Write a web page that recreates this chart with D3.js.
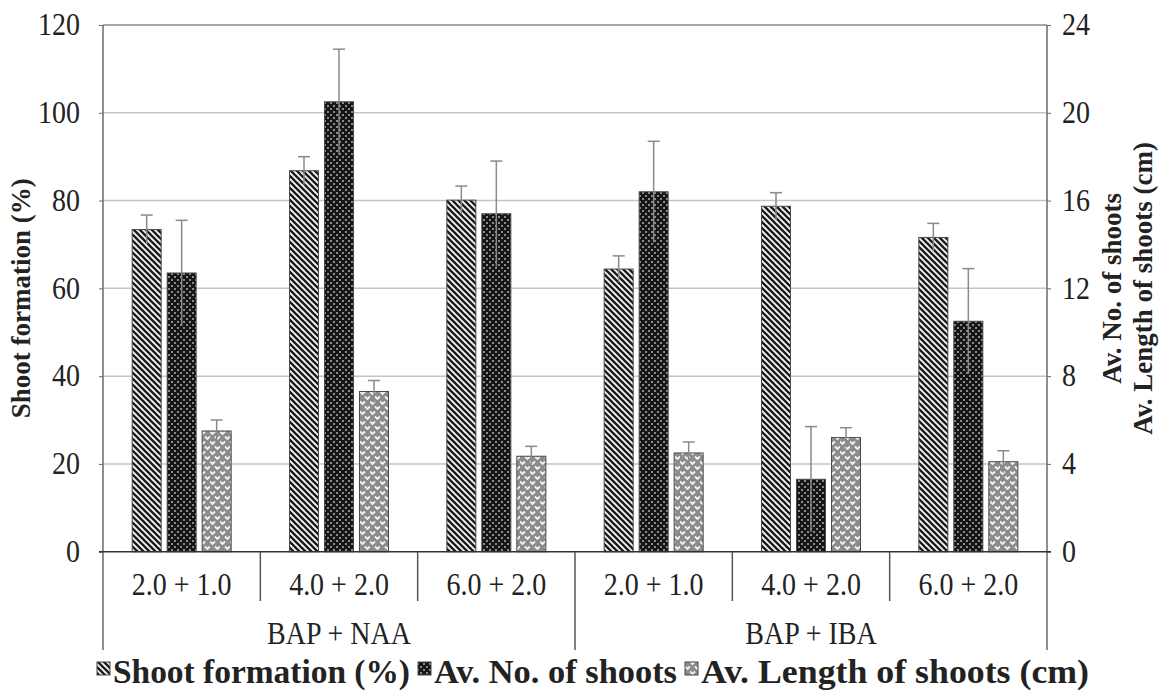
<!DOCTYPE html>
<html>
<head>
<meta charset="utf-8">
<script src="https://cdn.jsdelivr.net/npm/d3@7"></script>
<style>
  html, body { margin: 0; padding: 0; background: #fff; }
  svg { display: block; }
</style>
</head>
<body>
<svg id="chart" width="1171" height="692"></svg>
<script>
// ---- data ----
const categories = ["2.0 + 1.0", "4.0 + 2.0", "6.0 + 2.0", "2.0 + 1.0", "4.0 + 2.0", "6.0 + 2.0"];
const groups = ["BAP + NAA", "BAP + IBA"];
const seriesNames = ["Shoot formation (%)", "Av. No. of shoots", "Av. Length of shoots (cm)"];
const shootFormation    = [73.4, 86.8, 80.1, 64.4, 78.7, 71.6];
const shootFormationErr = [3.3, 3.2, 3.2, 3.0, 3.1, 3.2];
const avNoShoots        = [12.7, 20.5, 15.4, 16.4, 3.3, 10.5];
const avNoShootsErr     = [2.4, 2.4, 2.4, 2.3, 2.4, 2.4];
const avLength          = [5.5, 7.3, 4.35, 4.5, 5.2, 4.1];
const avLengthErr       = [0.5, 0.5, 0.45, 0.5, 0.45, 0.5];
const leftTicks  = [0, 20, 40, 60, 80, 100, 120];
const rightTicks = [0, 4, 8, 12, 16, 20, 24];

// ---- layout ----
const FONT = '"Liberation Serif"';
const STRETCH = "scale(1,1.15)";
const L = 103, R = 1047, T = 25, B = 551.7;
const svg = d3.select("#chart");

const yL = d3.scaleLinear().domain([0, 120]).range([B, T]);
const yR = d3.scaleLinear().domain([0, 24]).range([B, T]);
const x = d3.scaleBand().domain(d3.range(categories.length)).range([L, R]).padding(0);
const xs = d3.scaleBand().domain([0, 1, 2]).range([-49.5, 49.5]).paddingInner(0.171);

// ---- patterns ----
const defs = svg.append("defs");
const p1 = defs.append("pattern").attr("id", "pDiag").attr("patternUnits", "userSpaceOnUse")
  .attr("width", 6).attr("height", 6);
p1.append("rect").attr("width", 6).attr("height", 6).attr("fill", "#f4f4f4");
p1.append("path").attr("d", "M-1,-1 L7,7 M-4,2 L2,8 M2,-4 L8,2")
  .attr("stroke", "#1a1a1a").attr("stroke-width", 2.3);

const p2 = defs.append("pattern").attr("id", "pDots").attr("patternUnits", "userSpaceOnUse")
  .attr("width", 6).attr("height", 6);
p2.append("rect").attr("width", 6).attr("height", 6).attr("fill", "#161616");
p2.append("rect").attr("x", 0).attr("y", 0).attr("width", 2).attr("height", 2).attr("fill", "#8a8a8a");
p2.append("rect").attr("x", 3).attr("y", 3).attr("width", 2).attr("height", 2).attr("fill", "#8a8a8a");

const p3 = defs.append("pattern").attr("id", "pZig").attr("patternUnits", "userSpaceOnUse")
  .attr("width", 10).attr("height", 10);
p3.append("rect").attr("width", 10).attr("height", 10).attr("fill", "#8c8c8c");
p3.append("path").attr("d", "M0,1.5 L2.5,4 L5,1.5 M5,6.5 L7.5,9 L10,6.5")
  .attr("fill", "none").attr("stroke", "#f4f4f4").attr("stroke-width", 1.8);
const fills = ["url(#pDiag)", "url(#pDots)", "url(#pZig)"];

// ---- gridlines ----
svg.append("g").selectAll("line").data(leftTicks.filter(t => t > 0 && t < 120)).join("line")
  .attr("x1", L).attr("x2", R).attr("y1", d => yL(d)).attr("y2", d => yL(d))
  .attr("stroke", "#c4c4c4").attr("stroke-width", 1.5);

// ---- frame ----
svg.append("line").attr("x1", L).attr("x2", R).attr("y1", T).attr("y2", T)
  .attr("stroke", "#8a8a8a").attr("stroke-width", 1.5);
svg.append("line").attr("x1", L).attr("x2", L).attr("y1", T).attr("y2", 650)
  .attr("stroke", "#6a6a6a").attr("stroke-width", 1.5);
svg.append("line").attr("x1", R).attr("x2", R).attr("y1", T).attr("y2", 650)
  .attr("stroke", "#6a6a6a").attr("stroke-width", 1.5);

// ---- axes ----
const axL = svg.append("g").attr("transform", `translate(${L},0)`)
  .call(d3.axisLeft(yL).tickValues(leftTicks).tickSize(4).tickPadding(19));
axL.select(".domain").remove();
axL.selectAll("line").attr("stroke", "#6a6a6a");
axL.selectAll("text").style("font-size", "28px").style("font-family", FONT).attr("fill", "#222")
  .attr("dy", "0.3em").attr("transform", STRETCH);

const axR = svg.append("g").attr("transform", `translate(${R},0)`)
  .call(d3.axisRight(yR).tickValues(rightTicks).tickSize(4).tickPadding(11));
axR.select(".domain").remove();
axR.selectAll("line").attr("stroke", "#6a6a6a");
axR.selectAll("text").style("font-size", "28px").style("font-family", FONT).attr("fill", "#222")
  .attr("dy", "0.3em").attr("transform", STRETCH);

// ---- bars ----
const seriesVals = [shootFormation, avNoShoots, avLength];
const seriesErr = [shootFormationErr, avNoShootsErr, avLengthErr];
const seriesScale = [yL, yR, yR];
const barData = [];
seriesVals.forEach((arr, s) => arr.forEach((v, i) => barData.push({ s, i, v, e: seriesErr[s][i] })));

const barG = svg.append("g");
barG.selectAll("rect").data(barData).join("rect")
  .attr("x", d => x(d.i) + x.bandwidth() / 2 + xs(d.s))
  .attr("width", xs.bandwidth())
  .attr("y", d => seriesScale[d.s](d.v))
  .attr("height", d => B - seriesScale[d.s](d.v))
  .attr("fill", d => fills[d.s])
  .attr("stroke", "#4a4a4a").attr("stroke-width", 1);

// error bars
const errG = svg.append("g").attr("stroke", "#8a8a8a").attr("stroke-width", 1.5);
barData.forEach(d => {
  const cx = x(d.i) + x.bandwidth() / 2 + xs(d.s) + xs.bandwidth() / 2;
  const sc = seriesScale[d.s];
  errG.append("line").attr("x1", cx).attr("x2", cx).attr("y1", sc(d.v + d.e)).attr("y2", sc(Math.max(0, d.v - d.e)));
  errG.append("line").attr("x1", cx - 6).attr("x2", cx + 6).attr("y1", sc(d.v + d.e)).attr("y2", sc(d.v + d.e));
});

// baseline
svg.append("line").attr("x1", L - 4).attr("x2", R + 4).attr("y1", B).attr("y2", B)
  .attr("stroke", "#333").attr("stroke-width", 1.5);

// ---- category axis ----
const catG = svg.append("g");
catG.selectAll("text").data(categories).join("text")
  .attr("transform", (d, i) => `translate(${x(i) + x.bandwidth() / 2},595) ${STRETCH}`)
  .attr("text-anchor", "middle").style("font-size", "28px").style("font-family", FONT)
  .attr("fill", "#222").text(d => d);
catG.selectAll("line").data(d3.range(1, categories.length)).join("line")
  .attr("x1", i => x(i)).attr("x2", i => x(i))
  .attr("y1", B).attr("y2", i => (i % 3 === 0 ? 650 : 601))
  .attr("stroke", "#555").attr("stroke-width", 1.5);
svg.append("g").selectAll("text").data(groups).join("text")
  .attr("transform", (d, g) => `translate(${(x(g * 3) + x(g * 3 + 2) + x.bandwidth()) / 2},644) ${STRETCH}`)
  .attr("text-anchor", "middle").style("font-size", "28px").style("font-family", FONT)
  .attr("fill", "#222").text(d => d);

// ---- axis titles ----
const titleStyle = sel => sel.attr("text-anchor", "middle").style("font-weight", "bold")
  .style("font-size", "27px").style("font-family", FONT).attr("fill", "#222");
svg.append("text").attr("transform", `translate(30,${(T + B) / 2 + 10}) rotate(-90)`)
  .call(titleStyle).text("Shoot formation (%)");
svg.append("text").attr("transform", `translate(1121,${(T + B) / 2}) rotate(-90)`)
  .call(titleStyle).text("Av. No. of shoots");
svg.append("text").attr("transform", `translate(1152,${(T + B) / 2}) rotate(-90)`)
  .call(titleStyle).text("Av. Length of shoots (cm)");

// ---- legend ----
const legX = [97, 418, 685];
const legW = [297, 243, 388];
const leg = svg.append("g");
seriesNames.forEach((n, s) => {
  leg.append("rect").attr("x", legX[s]).attr("y", 662).attr("width", 13).attr("height", 13)
    .attr("fill", fills[s]).attr("stroke", "#444").attr("stroke-width", 1);
  leg.append("text").attr("transform", `translate(${legX[s] + 16},683) scale(1,1.1)`)
    .style("font-size", "30px").style("font-weight", "bold").style("font-family", FONT)
    .attr("fill", "#222")
    .attr("textLength", legW[s]).attr("lengthAdjust", "spacingAndGlyphs").text(n);
});
</script>
</body>
</html>
